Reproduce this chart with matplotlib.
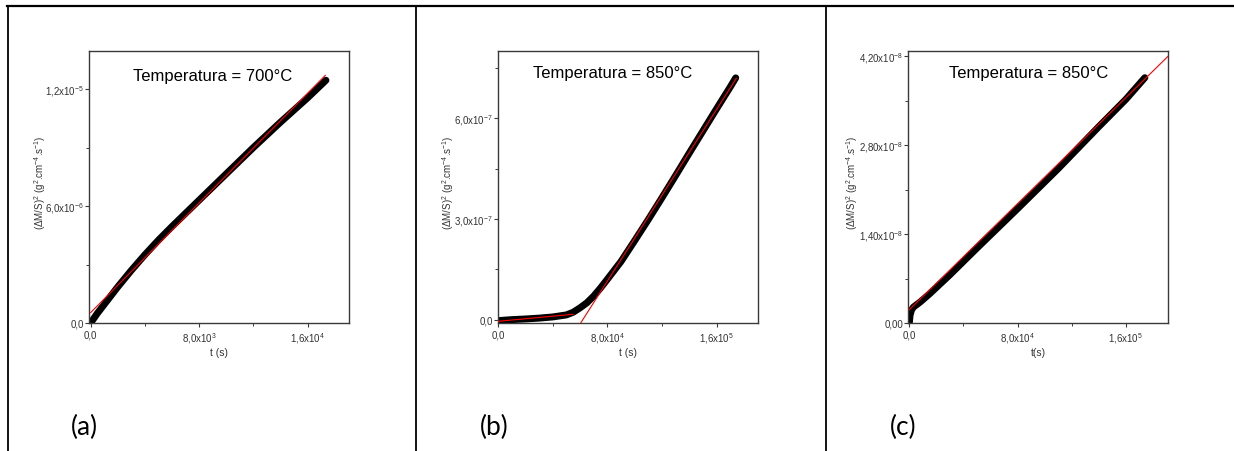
import matplotlib
matplotlib.use("Agg")
import matplotlib.pyplot as plt
from matplotlib.lines import Line2D
from matplotlib.ticker import FixedLocator

plt.rcParams['font.family'] = ['Liberation Sans', 'DejaVu Sans']
plt.rcParams['font.stretch'] = 'normal'
plt.rcParams['mathtext.fontset'] = 'custom'
plt.rcParams['mathtext.rm'] = 'Liberation Sans:stretch=normal'
plt.rcParams['mathtext.it'] = 'Liberation Sans:italic:stretch=normal'
plt.rcParams['mathtext.bf'] = 'Liberation Sans:bold:stretch=normal'
plt.rcParams['mathtext.sf'] = 'Liberation Sans:stretch=normal'

# ---------------- data ----------------
# panel (a) 700 °C
a_t = [0, 250, 500, 1000, 1500, 2000, 3000, 4000, 5000, 6000, 8000, 10000,
       12000, 14000, 16000, 17350]
a_y = [0.0, 0.25e-6, 0.5e-6, 0.95e-6, 1.4e-6, 1.85e-6, 2.7e-6, 3.5e-6,
       4.25e-6, 4.95e-6, 6.3e-6, 7.65e-6, 9.0e-6, 10.3e-6, 11.55e-6, 12.45e-6]
a_fit_t = [0, 17300]
a_fit_y = [0.53e-6, 12.7e-6]

# panel (b) 850 °C
b_t = [0, 10000, 20000, 30000, 40000, 50000, 55000, 60000, 65000, 70000,
       75000, 80000, 90000, 100000, 110000, 120000, 130000, 140000, 150000,
       160000, 170000, 174000]
b_y = [-0.3e-8, 0.0, 0.2e-8, 0.45e-8, 0.8e-8, 1.4e-8, 2.2e-8, 3.5e-8, 5.0e-8,
       7.0e-8, 9.4e-8, 12.0e-8, 17.3e-8, 23.5e-8, 29.8e-8, 36.3e-8, 42.9e-8,
       49.6e-8, 56.2e-8, 62.8e-8, 69.3e-8, 72.0e-8]
b_fit1_t = [0, 55000]
b_fit1_y = [-0.5e-8, 1.6e-8]
b_fit2_t = [60000, 174500]
b_fit2_y = [-1.34e-8, 71.9e-8]

# panel (c) 850 °C
c_t = [0, 500, 1500, 3000, 8000, 15000, 30000, 50000, 80000, 110000, 140000,
       160000, 174000]
c_y = [0.0, 0.12e-8, 0.2e-8, 0.25e-8, 0.33e-8, 0.46e-8, 0.76e-8, 1.18e-8,
       1.8e-8, 2.43e-8, 3.09e-8, 3.52e-8, 3.86e-8]
c_fit_t = [0, 191300]
c_fit_y = [0.21e-8, 4.2e-8]

titles = ["Temperatura = 700°C", "Temperatura = 850°C", "Temperatura = 850°C"]
letters = ["(a)", "(b)", "(c)"]
xlabels = ["t (s)", "t (s)", "t(s)"]
ylabel = r"($\Delta$M/S)$^{\mathregular{2}}$ (g$^{\mathregular{2}}$.cm$^{\mathregular{-4}}$.s$^{\mathregular{-1}}$)"

a_xticks = [0, 8000, 16000]
a_xticklabels = ["0,0", r"8,0x10$^{\mathregular{3}}$", r"1,6x10$^{\mathregular{4}}$"]
a_xminor = [4000, 12000]
a_yticks = [0, 6e-6, 1.2e-5]
a_yticklabels = ["0,0", r"6,0x10$^{\mathregular{-6}}$", r"1,2x10$^{\mathregular{-5}}$"]
a_yminor = [3e-6, 9e-6]

b_xticks = [0, 80000, 160000]
b_xticklabels = ["0,0", r"8,0x10$^{\mathregular{4}}$", r"1,6x10$^{\mathregular{5}}$"]
b_xminor = [40000, 120000]
b_yticks = [0, 3e-7, 6e-7]
b_yticklabels = ["0,0", r"3,0x10$^{\mathregular{-7}}$", r"6,0x10$^{\mathregular{-7}}$"]
b_yminor = [1.5e-7, 4.5e-7, 7.5e-7]

c_xticks = [0, 80000, 160000]
c_xticklabels = ["0,0", r"8,0x10$^{\mathregular{4}}$", r"1,6x10$^{\mathregular{5}}$"]
c_xminor = [40000, 120000]
c_yticks = [0, 1.4e-8, 2.8e-8, 4.2e-8]
c_yticklabels = ["0,00", r"1,40x10$^{\mathregular{-8}}$", r"2,80x10$^{\mathregular{-8}}$",
                 r"4,20x10$^{\mathregular{-8}}$"]
c_yminor = [0.7e-8, 2.1e-8, 3.5e-8]

# ---------------- figure ----------------
W, H = 1234, 452
fig = plt.figure(figsize=(W / 100, H / 100), dpi=100)

panels = [
    dict(left=89, t=a_t, y=a_y, fits=[(a_fit_t, a_fit_y)], xlim=(-120, 19050),
         ylim=(0, 1.395e-5), xt=a_xticks, xtl=a_xticklabels, xm=a_xminor,
         yt=a_yticks, ytl=a_yticklabels, ym=a_yminor, tx=0.477, ty=0.91,
         ylx=-0.19),
    dict(left=498, t=b_t, y=b_y, fits=[(b_fit1_t, b_fit1_y), (b_fit2_t, b_fit2_y)],
         xlim=(0, 190300), ylim=(-1e-8, 8.0e-7), xt=b_xticks, xtl=b_xticklabels,
         xm=b_xminor, yt=b_yticks, ytl=b_yticklabels, ym=b_yminor, tx=0.44,
         ty=0.92, ylx=-0.19),
    dict(left=908, t=c_t, y=c_y, fits=[(c_fit_t, c_fit_y)], xlim=(-1000, 191100),
         ylim=(0, 4.28e-8), xt=c_xticks, xtl=c_xticklabels, xm=c_xminor,
         yt=c_yticks, ytl=c_yticklabels, ym=c_yminor, tx=0.464, ty=0.92,
         ylx=-0.215),
]

ax_top, ax_bot = 52, 324
spine_col = '#3a3a3a'
tick_col = '#333333'
for i, p in enumerate(panels):
    ax = fig.add_axes([p['left'] / W, (H - ax_bot) / H, 260 / W, (ax_bot - ax_top) / H])
    ax.plot(p['t'], p['y'], color='black', lw=5, solid_capstyle='round',
            solid_joinstyle='round', zorder=2)
    for ft, fy in p['fits']:
        ax.plot(ft, fy, color='red', lw=0.8, zorder=3)
    ax.set_xlim(*p['xlim'])
    ax.set_ylim(*p['ylim'])
    ax.xaxis.set_major_locator(FixedLocator(p['xt']))
    ax.set_xticklabels(p['xtl'])
    ax.xaxis.set_minor_locator(FixedLocator(p['xm']))
    ax.yaxis.set_major_locator(FixedLocator(p['yt']))
    ax.set_yticklabels(p['ytl'])
    ax.yaxis.set_minor_locator(FixedLocator(p['ym']))
    ax.tick_params(which='major', direction='out', length=3, width=0.8,
                   color=spine_col, labelsize=7, labelcolor=tick_col)
    ax.tick_params(which='minor', direction='out', length=2, width=0.7, color=spine_col)
    ax.tick_params(axis='y', which='major', pad=0.5)
    ax.tick_params(axis='x', which='major', pad=2)
    for s in ax.spines.values():
        s.set_color(spine_col)
        s.set_linewidth(1.0)
    ax.text(p['tx'], p['ty'], titles[i], transform=ax.transAxes, ha='center',
            va='center', fontsize=12, color='black')
    ax.set_xlabel(xlabels[i], fontsize=7.5, color=tick_col)
    ax.xaxis.set_label_coords(0.5, -0.105)
    ax.set_ylabel(ylabel, fontsize=7, color=tick_col)
    ax.yaxis.set_label_coords(p['ylx'], 0.52)
    ax.yaxis.label.set_va('center')
    ax.xaxis.label.set_va('center')

# panel letters
for lx, txt in zip([71, 480, 890], letters):
    fig.text(lx / W, 1 - 427 / H, txt, fontsize=19, family=['Lato', 'DejaVu Sans'],
             ha='left', va='center', color='black')

# table borders
fig.add_artist(Line2D([7 / W, 1.0], [1 - 6.5 / H, 1 - 6.5 / H], color='black', lw=1.6))
for vx in [7.5, 416, 826]:
    fig.add_artist(Line2D([vx / W, vx / W], [0, 1 - 6.5 / H], color='black', lw=1.3))

fig.savefig("out.png", dpi=100, facecolor='white')
